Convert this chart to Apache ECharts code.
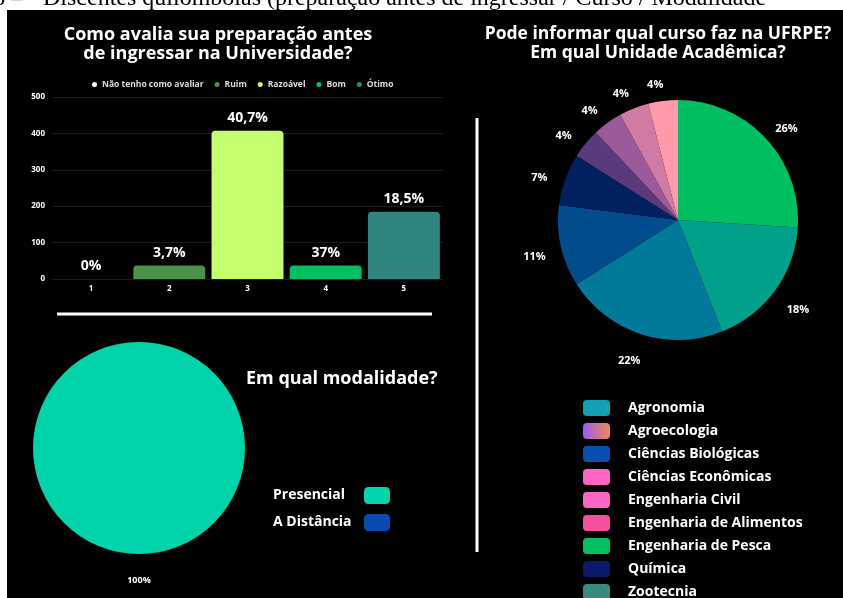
<!DOCTYPE html>
<html>
<head>
<meta charset="utf-8">
<script src="https://cdn.jsdelivr.net/npm/echarts@6/dist/echarts.min.js"></script>
<style>
  html, body { margin: 0; padding: 0; background: #fff; }
  #chart { width: 843px; height: 598px; }
</style>
</head>
<body>
<div id="chart"></div>
<script>
// --- data ---
var ratingCategories = ['1', '2', '3', '4', '5']
var ratingNames = ['Não tenho como avaliar', 'Ruim', 'Razoável', 'Bom', 'Ótimo']
var ratingValues = [0, 37, 407, 37, 185]
var ratingLabels = ['0%', '3,7%', '40,7%', '37%', '18,5%']

// pie slices, clockwise from 12 o'clock
var courseNames = ['Engenharia de Pesca', 'Zootecnia', 'Agronomia', 'Ciências Biológicas', 'Química',
  'Agroecologia', 'Ciências Econômicas', 'Engenharia Civil', 'Engenharia de Alimentos']
var coursePercents = [26, 18, 22, 11, 7, 4, 4, 4, 4]
var courseLegendOrder = ['Agronomia', 'Agroecologia', 'Ciências Biológicas', 'Ciências Econômicas',
  'Engenharia Civil', 'Engenharia de Alimentos', 'Engenharia de Pesca', 'Química', 'Zootecnia']

var modeNames = ['Presencial', 'A Distância']
var modePercents = [100, 0]

// --- colours ---
var ratingColors = ['#ffffff', '#4a944a', '#c4ff6c', '#00bf5f', '#2f8580']
var sliceColors = ['#00bf63', '#00a08a', '#007a9a', '#004c8c', '#00205f', '#5b3a7c', '#9c5a9c', '#d07aa4', '#ff9aaa']
var courseLegendColors = {
  'Agronomia': '#14a0b4',
  'Agroecologia': new echarts.graphic.LinearGradient(0, 0, 1, 0, [
    { offset: 0, color: '#9b5cf6' }, { offset: 1, color: '#f28a4e' }]),
  'Ciências Biológicas': '#0a4fb0',
  'Ciências Econômicas': '#ff66c4',
  'Engenharia Civil': '#ff66c4',
  'Engenharia de Alimentos': '#f4509c',
  'Engenharia de Pesca': '#00c060',
  'Química': '#0b1a6b',
  'Zootecnia': '#3a8a80'
}
var modeColors = ['#00d2aa', '#0a4ab0']

var FONT = '"Open Sans", Lato, sans-serif'

var chart = echarts.init(document.getElementById('chart'))

// one series per rating so each gets its own legend entry; barGap -100% keeps them in place
var barSeries = ratingNames.map(function (name, i) {
  return {
    name: name,
    type: 'bar',
    barGap: '-100%',
    barCategoryGap: '8%',
    data: ratingCategories.map(function (c, j) { return j === i ? ratingValues[i] : '-' }),
    itemStyle: { color: ratingColors[i], borderRadius: [4, 4, 0, 0] },
    label: {
      show: true,
      position: 'top',
      distance: 6,
      formatter: ratingLabels[i],
      color: '#fff',
      fontSize: 14,
      fontWeight: 'bold',
      fontFamily: FONT
    }
  }
})

var titleStyle = { color: '#fff', fontSize: 18, fontWeight: 'bold', lineHeight: 19, fontFamily: FONT }

var option = {
  backgroundColor: '#fff',
  animation: false,
  title: [
    {
      text: 'Como avalia sua preparação antes\nde ingressar na Universidade?',
      left: 213, top: 20, textAlign: 'center',
      textStyle: titleStyle
    },
    {
      text: 'Pode informar qual curso faz na UFRPE?\nEm qual Unidade Acadêmica?',
      left: 653, top: 20, textAlign: 'center',
      textStyle: Object.assign({}, titleStyle, { fontSize: 17.5 })
    },
    {
      text: 'Em qual modalidade?',
      left: 241, top: 364,
      textStyle: titleStyle
    }
  ],
  legend: [
    {
      data: ratingNames,
      left: 87, top: 75,
      icon: 'circle', itemWidth: 5, itemHeight: 5, itemGap: 11,
      textStyle: { color: '#ddd', fontSize: 8.5, fontWeight: 'bold', fontFamily: FONT }
    },
    {
      data: courseLegendOrder.map(function (n) {
        return { name: n, itemStyle: { color: courseLegendColors[n] } }
      }),
      orient: 'vertical', left: 583, top: 400, height: 240, padding: 0,
      icon: 'roundRect', itemWidth: 27, itemHeight: 16, itemGap: 7,
      textStyle: { color: '#fff', fontSize: 14, lineHeight: 16, fontWeight: 'bold', fontFamily: FONT, padding: [0, 0, 0, 13] }
    },
    {
      data: modeNames,
      orient: 'vertical', left: 268, top: 482, align: 'right',
      icon: 'roundRect', itemWidth: 26, itemHeight: 17, itemGap: 10,
      formatter: '{n|{name}}',
      textStyle: {
        rich: { n: { width: 86, align: 'left', color: '#fff', fontSize: 14, fontWeight: 'bold', fontFamily: FONT } }
      }
    }
  ],
  grid: { left: 52, right: 400, top: 97, bottom: 319 },
  xAxis: {
    type: 'category',
    data: ratingCategories,
    axisLine: { show: false },
    axisTick: { show: false },
    axisLabel: { color: '#fff', fontSize: 8, fontWeight: 'bold', margin: 6, fontFamily: FONT }
  },
  yAxis: {
    type: 'value',
    min: 0, max: 500, interval: 100,
    axisLabel: { color: '#fff', fontSize: 8, fontWeight: 'bold', margin: 7, fontFamily: FONT },
    splitLine: { lineStyle: { color: '#1c1c1c' } }
  },
  series: barSeries.concat([
    {
      name: 'Curso',
      type: 'pie',
      center: [678, 220],
      radius: 120,
      startAngle: 90,
      avoidLabelOverlap: false,
      data: courseNames.map(function (n, i) {
        return { name: n, value: coursePercents[i], itemStyle: { color: sliceColors[i] } }
      }),
      label: {
        position: 'outside', formatter: '{c}%',
        color: '#fff', fontSize: 11, fontWeight: 'bold', fontFamily: FONT
      },
      labelLine: { show: false, length: 22, length2: 0 },
      labelLayout: { align: 'center', dy: 6 }
    },
    {
      name: 'Modalidade',
      type: 'pie',
      center: [139, 448],
      radius: 106,
      startAngle: 90,
      avoidLabelOverlap: false,
      data: modeNames.map(function (n, i) {
        return {
          name: n, value: modePercents[i],
          itemStyle: { color: modeColors[i] },
          label: { show: modePercents[i] > 0 }
        }
      }),
      label: {
        position: 'outside', formatter: '{c}%',
        color: '#fff', fontSize: 9, fontWeight: 'bold', fontFamily: FONT
      },
      labelLine: { show: false, length: 20, length2: 0 },
      labelLayout: { align: 'center', dx: 5, dy: 6 }
    }
  ]),
  graphic: [
    {
      type: 'text', z: -2,
      style: { text: '6 –', x: -7, y: -13, font: '24px "Liberation Serif"', fill: '#000' }
    },
    {
      type: 'text', z: -2,
      style: {
        text: 'Discentes quilombolas (preparação antes de ingressar / Curso / Modalidade',
        x: 43, y: -13,
        font: '24px "Liberation Serif"',
        fill: '#000'
      }
    },
    { type: 'rect', z: -1, shape: { x: 7, y: 10, width: 836, height: 588 }, style: { fill: '#000' } },
    { type: 'line', z: 5, shape: { x1: 57, y1: 314, x2: 432, y2: 314 }, style: { stroke: '#fff', lineWidth: 3 } },
    { type: 'line', z: 5, shape: { x1: 477, y1: 118, x2: 477, y2: 552 }, style: { stroke: '#fff', lineWidth: 3 } }
  ]
}

chart.setOption(option)
</script>
</body>
</html>
